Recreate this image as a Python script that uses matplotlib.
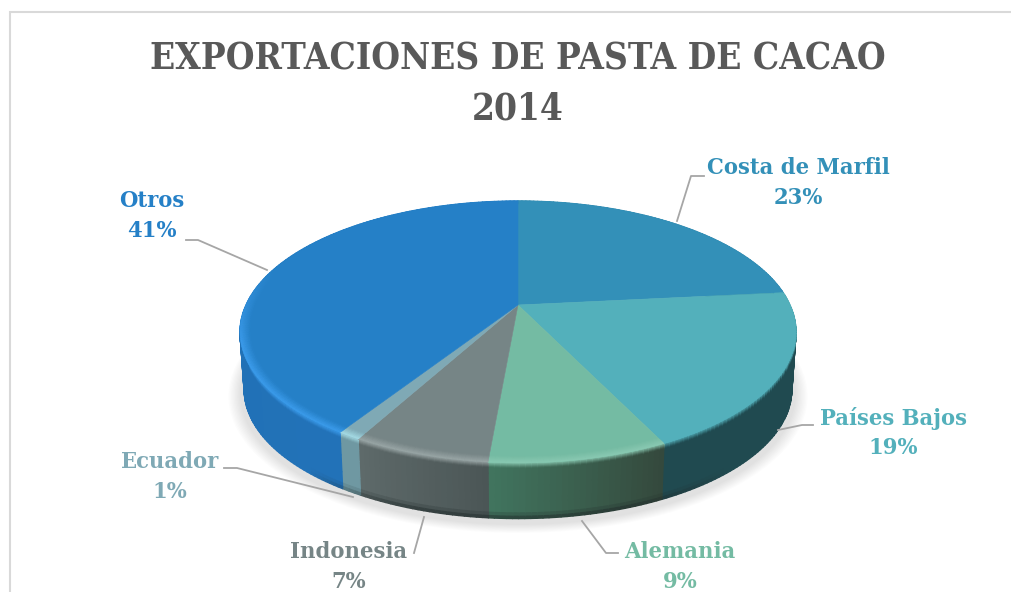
import numpy as np
import matplotlib
matplotlib.use('Agg')
import matplotlib.pyplot as plt
from matplotlib.collections import PolyCollection
from matplotlib.colors import to_rgb
from matplotlib.patches import Circle
from matplotlib.transforms import Affine2D, Transform

# Data
countries = ['Costa de Marfil', 'Países Bajos', 'Alemania', 'Indonesia', 'Ecuador', 'Otros']
shares = [23.4, 19.4, 8.6, 6.6, 1.1, 40.9]

# Colours for each slice: top, rim highlight, side at start and end of the slice
top_colors = ['#3390b8', '#53b0bb', '#74bba3', '#768586', '#7fa9b5', '#2580c7']
rim_colors = ['#3390b8', '#53b0bb', '#8ac9b2', '#9aa6a6', '#a6dde6', '#3c9cec']
side_start = ['#1f4a55', '#204a50', '#34483c', '#4b5656', '#6f98a2', '#2272b8']
side_end = ['#1f4a55', '#204a50', '#41755f', '#5e6a6a', '#6f98a2', '#1f6fb2']

label_xy = [(798, 183), (893, 433), (680, 567), (349, 567), (170, 477), (152, 216)]
leaders = [
    [(677, 221), (691, 176), (704, 176)],
    [(778, 430), (802, 425), (813, 425)],
    [(582, 521), (606, 553), (618, 553)],
    [(424, 517), (414, 553)],
    [(353, 497), (237, 468), (224, 468)],
    [(267, 270), (198, 240), (186, 240)],
]

# Camera of the 3D pie, in pixels
APEX_X, APEX_Y = 518, 305
SCALE_X, SCALE_Y, TILT = 272, 125.4, 0.206
DEPTH = 58


class Perspective(Transform):
    """Maps the unit circle of the pie on to the tilted disc."""
    input_dims = output_dims = 2
    is_separable = False

    def transform_non_affine(self, values):
        values = np.asarray(values, dtype=float)
        w = 1 + TILT * values[:, 1]
        return np.column_stack([APEX_X + SCALE_X * values[:, 0] / w,
                                APEX_Y - SCALE_Y * values[:, 1] / w])


persp = Perspective()


def surface(theta, r, z):
    rad = np.radians(theta)
    pts = persp.transform_non_affine(np.column_stack([r * np.sin(rad), r * np.cos(rad)]))
    shrink = 1 - 0.015 * z
    return np.column_stack([APEX_X + (pts[:, 0] - APEX_X) * shrink,
                            APEX_Y + (pts[:, 1] - APEX_Y) * shrink + DEPTH * z])


def mix(a, b, t):
    return tuple(np.array(a) * (1 - t) + np.array(b) * t)


fig = plt.figure(figsize=(10.11, 5.92), dpi=100)
ax = fig.add_axes([0, 0, 1, 1])

wedges, _ = ax.pie(shares, colors=top_colors, startangle=90, counterclock=False)
ax.set_xlim(0, 1011)
ax.set_ylim(592, 0)

# Chart border
ax.plot([10, 10, 1011], [592, 12, 12], color='#d9d9d9', lw=1.5, solid_joinstyle='miter', zorder=1)

# Soft shadow under the disc
for grow in np.linspace(0.0, 0.04, 10):
    ax.add_patch(Circle((0, 0), 1 + grow, color='#000000', alpha=0.012, lw=0, zorder=2,
                        transform=persp + Affine2D().translate(0, 62) + ax.transData))

# Side wall and bevel, built slice by slice
edges = np.cumsum([0] + shares) * 3.6
wall_z = np.array([0, 0.02, 0.04, 0.06, 0.08, 0.1, 0.2, 0.4, 0.7, 0.9, 0.96, 1.0])
rim_r = np.linspace(0.965, 1, 8)
wall_polys, wall_cols, rim_polys, rim_cols = [], [], [], []
for i in range(len(shares)):
    thetas = np.linspace(edges[i], edges[i + 1], max(int(edges[i + 1] - edges[i]), 2) + 1)
    top = to_rgb(top_colors[i])
    rim = to_rgb(rim_colors[i])
    start = to_rgb(side_start[i])
    end = to_rgb(side_end[i])
    for t0, t1 in zip(thetas[:-1], thetas[1:]):
        tm = (t0 + t1) / 2
        side = mix(start, end, (tm - edges[i]) / (edges[i + 1] - edges[i]))
        front = np.clip((0.3 - np.cos(np.radians(tm))) / 0.6, 0, 1)
        low = np.clip((-0.75 - np.cos(np.radians(tm))) / 0.2, 0, 1)
        for z0, z1 in zip(wall_z[:-1], wall_z[1:]):
            zm = (z0 + z1) / 2
            col = mix(side, (0.12, 0.16, 0.16), np.clip((zm - 0.9) / 0.1, 0, 1) * 0.7 * low)
            if zm < 0.1:
                col = mix(mix(top, rim, front), col, zm / 0.1)
            corner = surface(np.array([t0, t1, t1, t0]), np.ones(4),
                             np.array([z0, z0, z1, z1]))
            wall_polys.append(corner)
            wall_cols.append(col)
        for r0, r1 in zip(rim_r[:-1], rim_r[1:]):
            rm = (r0 + r1) / 2
            col = mix(top, mix(top, rim, front), (rm - rim_r[0]) / (1 - rim_r[0]))
            corner = surface(np.array([t0, t1, t1, t0]), np.array([r0, r0, r1, r1]), np.zeros(4))
            rim_polys.append(corner)
            rim_cols.append(col)

ax.add_collection(PolyCollection(wall_polys, facecolors=wall_cols, edgecolors=wall_cols,
                                 linewidths=1.0, zorder=3))

# Top of the disc, the pie itself seen through the camera
for wedge, col in zip(wedges, top_colors):
    wedge.set_transform(persp + ax.transData)
    wedge.set_edgecolor(col)
    wedge.set_linewidth(0.4)
    wedge.set_zorder(4)

ax.add_collection(PolyCollection(rim_polys, facecolors=rim_cols, edgecolors=rim_cols,
                                 linewidths=0.4, zorder=5))

# Leader lines and labels
for line in leaders:
    xs, ys = zip(*line)
    ax.plot(xs, ys, color='#a6a6a6', lw=1.3, zorder=6)

font = {'family': 'DejaVu Serif', 'stretch': 'condensed', 'weight': 'bold'}
for name, share, xy, col in zip(countries, shares, label_xy, top_colors):
    ax.text(xy[0], xy[1], f'{name}\n{share:.0f}%', color=col, fontsize=16.9, linespacing=1.47,
            ha='center', va='center', zorder=7, **font)

ax.text(518, 60, 'EXPORTACIONES DE PASTA DE CACAO', color='#595959', fontsize=26.5,
        ha='center', va='center', zorder=7, **font)
ax.text(518, 110, '2014', color='#595959', fontsize=26.5, ha='center', va='center',
        zorder=7, **font)

fig.savefig('out.png', dpi=100)
